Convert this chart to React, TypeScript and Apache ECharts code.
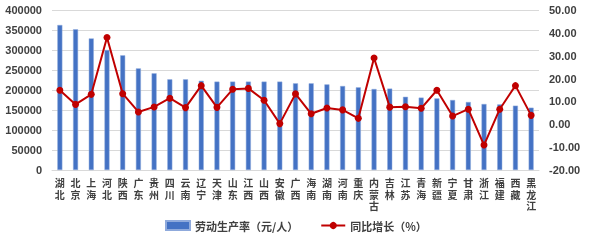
import React, { useEffect, useRef } from "react";
import * as echarts from "echarts";

const categories = ["湖北","北京","上海","河北","陕西","广东","贵州","四川","云南","辽宁","天津","山东","江西","山西","安徽","广西","海南","湖南","河南","重庆","内蒙古","吉林","江苏","青海","新疆","宁夏","甘肃","浙江","福建","西藏","黑龙江"];
const productivity = [362500,351700,329000,300000,286700,254000,241700,226700,226700,223000,221000,221000,221000,221000,221000,216700,216700,214000,210000,206700,202500,203500,183000,181000,179000,175000,170000,165000,164000,160800,155800];
const growth = [14.9,8.7,13.1,38.0,13.4,5.4,7.6,11.4,7.3,16.9,7.4,15.3,15.7,10.5,0.3,13.3,4.6,7.1,6.3,2.6,29.0,7.5,7.7,7.0,14.9,3.6,6.6,-9.1,6.6,16.9,3.9];
const barName = "劳动生产率（元/人）";
const lineName = "同比增长（%）";

export default function App() {
  const ref = useRef<HTMLDivElement>(null);
  useEffect(() => {
    const chart = echarts.init(ref.current!, null, { renderer: "svg" });
    const textStyle = { color: "#404040", fontWeight: "bold" as const, fontSize: 11, fontFamily: "'Noto Sans CJK SC', sans-serif" };
    chart.setOption({
      animation: false,
      textStyle,
      grid: { left: 52, right: 50, top: 10, bottom: 76, containLabel: false },
      legend: {
        bottom: 10,
        left: 160,
        itemGap: 22,
        itemWidth: 24,
        itemHeight: 9,
        textStyle: { ...textStyle, fontSize: 11 },
        data: [
          { name: barName, icon: "rect" },
          { name: lineName },
        ],
      },
      xAxis: {
        type: "category",
        data: categories,
        axisTick: { show: false },
        axisLine: { lineStyle: { color: "#d9d9d9", width: 1 } },
        axisLabel: {
          interval: 0,
          margin: 8,
          ...textStyle,
          fontFamily: "'Liberation Sans', 'Noto Sans CJK SC', sans-serif",
          fontSize: 10,
          lineHeight: 11.5,
          formatter: (v: string) => v.split("").join("\n"),
        },
      },
      yAxis: [
        {
          type: "value",
          min: 0,
          max: 400000,
          interval: 50000,
          axisLine: { show: false },
          axisTick: { show: false },
          splitLine: { lineStyle: { color: "#d9d9d9" } },
          axisLabel: { ...textStyle, fontFamily: "'Liberation Sans', sans-serif", margin: 10, formatter: (v: number) => String(v) },
        },
        {
          type: "value",
          min: -20,
          max: 50,
          interval: 10,
          axisLine: { show: false },
          axisTick: { show: false },
          splitLine: { show: false },
          axisLabel: { ...textStyle, fontFamily: "'Liberation Sans', sans-serif", margin: 10, formatter: (v: number) => v.toFixed(2) },
        },
      ],
      series: [
        {
          name: barName,
          type: "bar",
          data: productivity,
          barWidth: 5,
          itemStyle: { color: "#4472C4", borderColor: "#8FAADC", borderWidth: 0.5 },
        },
        {
          name: lineName,
          type: "line",
          yAxisIndex: 1,
          data: growth,
          symbol: "circle",
          symbolSize: 7,
          lineStyle: { color: "#C00000", width: 2 },
          itemStyle: { color: "#C00000" },
        },
      ],
    });
    return () => chart.dispose();
  }, []);
  return <div ref={ref} style={{ position: "fixed", left: 0, top: 0, width: 589, height: 246 }} />;
}
